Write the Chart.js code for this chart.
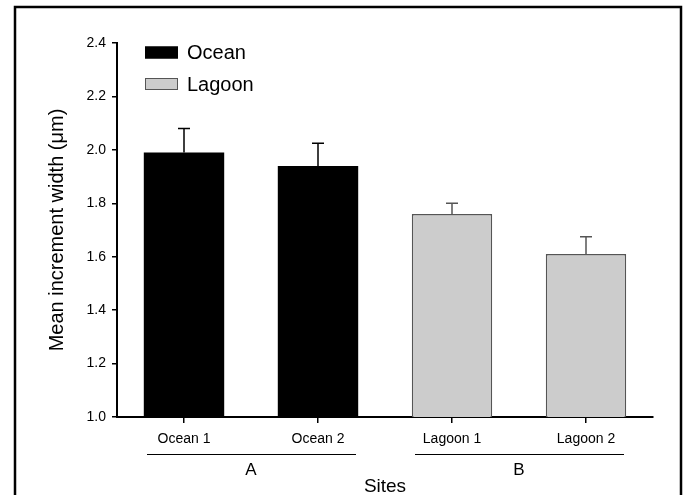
<!DOCTYPE html>
<html>
<head>
<meta charset="utf-8">
<script src="https://cdn.jsdelivr.net/npm/chart.js@4"></script>
<style>
  html, body { margin: 0; padding: 0; background: #fff; }
  #wrap { width: 685px; height: 495px; position: relative; }
</style>
</head>
<body>
<div id="wrap"><canvas id="sitesChart" width="685" height="495"></canvas></div>
<script>
// site data
var sites = ["Ocean 1", "Ocean 2", "Lagoon 1", "Lagoon 2"];
var oceanMeans = [1.99, 1.94, null, null];
var lagoonMeans = [null, null, 1.76, 1.61];
var upperErrors = [0.09, 0.085, 0.04, 0.065];
var yTicks = [1.0, 1.2, 1.4, 1.6, 1.8, 2.0, 2.2, 2.4];
var groupNames = ["A", "B"];
var groupMembers = [[0, 1], [2, 3]];

var FONT = "'Liberation Sans', Arial, sans-serif";

// error bars, group lines, legend, frame
var extrasPlugin = {
    id: "extras",
    afterDatasetsDraw: function (chart) {
        var ctx = chart.ctx;
        var y = chart.scales.y;
        ctx.save();
        chart.data.datasets.forEach(function (ds, di) {
            var meta = chart.getDatasetMeta(di);
            meta.data.forEach(function (bar, i) {
                if (ds.data[i] === null) return;
                var top = y.getPixelForValue(ds.data[i]);
                var end = y.getPixelForValue(ds.data[i] + upperErrors[i]);
                ctx.strokeStyle = di === 0 ? "#000" : "#555";
                ctx.lineWidth = 1.5;
                ctx.beginPath();
                ctx.moveTo(bar.x, top);
                ctx.lineTo(bar.x, end);
                ctx.moveTo(bar.x - 6, end);
                ctx.lineTo(bar.x + 6, end);
                ctx.stroke();
            });
        });
        ctx.restore();
    },
    afterDraw: function (chart) {
        var ctx = chart.ctx;
        var x = chart.scales.x;
        ctx.save();

        // groups under the category labels
        ctx.strokeStyle = "#000";
        ctx.lineWidth = 1;
        ctx.fillStyle = "#000";
        ctx.textAlign = "center";
        ctx.textBaseline = "middle";
        ctx.font = "17px " + FONT;
        groupMembers.forEach(function (m, g) {
            var a = x.getPixelForValue(m[0]);
            var b = x.getPixelForValue(m[1]);
            var lineY = 454.5;
            ctx.beginPath();
            ctx.moveTo(a - 37, lineY);
            ctx.lineTo(b + 38, lineY);
            ctx.stroke();
            ctx.fillText(groupNames[g], (a + b) / 2, 470);
        });

        ctx.font = "19px " + FONT;
        ctx.fillText("Sites", (chart.chartArea.left + chart.chartArea.right) / 2, 487);

        // legend
        ctx.textAlign = "left";
        ctx.font = "20px " + FONT;
        var items = [
            { label: "Ocean", fill: "#000", stroke: "#000", y: 52.5 },
            { label: "Lagoon", fill: "#cccccc", stroke: "#555", y: 84 }
        ];
        items.forEach(function (it) {
            ctx.fillStyle = it.fill;
            ctx.fillRect(145, it.y - 6, 33, 12);
            ctx.strokeStyle = it.stroke;
            ctx.lineWidth = 1;
            ctx.strokeRect(145.5, it.y - 5.5, 32, 11);
            ctx.fillStyle = "#000";
            ctx.fillText(it.label, 187, it.y + 1);
        });

        // outer frame
        ctx.strokeStyle = "#000";
        ctx.lineWidth = 2.5;
        ctx.strokeRect(15, 7, 666, 500);
        ctx.restore();
    }
};

var ctx = document.getElementById("sitesChart").getContext("2d");
var sitesChart = new Chart(ctx, {
    type: "bar",
    data: {
        labels: sites,
        datasets: [
            {
                label: "Ocean",
                data: oceanMeans,
                backgroundColor: "#000",
                borderColor: "#000",
                borderWidth: 0,
                barPercentage: 0.6,
                categoryPercentage: 1.0,
                skipNull: true
            },
            {
                label: "Lagoon",
                data: lagoonMeans,
                backgroundColor: "#cccccc",
                borderColor: "#555",
                borderWidth: 1.5,
                barPercentage: 0.6,
                categoryPercentage: 1.0,
                skipNull: true
            }
        ]
    },
    options: {
        responsive: false,
        animation: false,
        layout: { padding: { left: 0, top: 43, right: 32, bottom: 0 } },
        plugins: {
            legend: { display: false },
            tooltip: { enabled: false }
        },
        scales: {
            x: {
                grid: { display: true, offset: false, drawOnChartArea: false, drawTicks: true, tickLength: 6, color: "#000", lineWidth: 1.5 },
                border: { display: true, color: "#000", width: 2 },
                ticks: { color: "#000", font: { family: FONT, size: 14 }, padding: 8, maxRotation: 0 },
                afterFit: function (scale) { scale.height = 78; }
            },
            y: {
                min: 1.0,
                max: 2.4,
                afterBuildTicks: function (scale) {
                    scale.ticks = yTicks.map(function (v) { return { value: v }; });
                },
                grid: { display: true, drawOnChartArea: false, drawTicks: true, tickLength: 5, color: "#000", lineWidth: 1.5 },
                border: { display: true, color: "#000", width: 2 },
                ticks: {
                    color: "#000",
                    font: { family: FONT, size: 14 },
                    padding: 6,
                    callback: function (value) { return Number(value).toFixed(1); }
                },
                title: {
                    display: true,
                    text: "Mean increment width (\u03bcm)",
                    color: "#000",
                    font: { family: FONT, size: 20 },
                    padding: { top: 45, bottom: 0 }
                },
                afterFit: function (scale) { scale.width = 117; }
            }
        }
    },
    plugins: [extrasPlugin]
});
</script>
</body>
</html>
